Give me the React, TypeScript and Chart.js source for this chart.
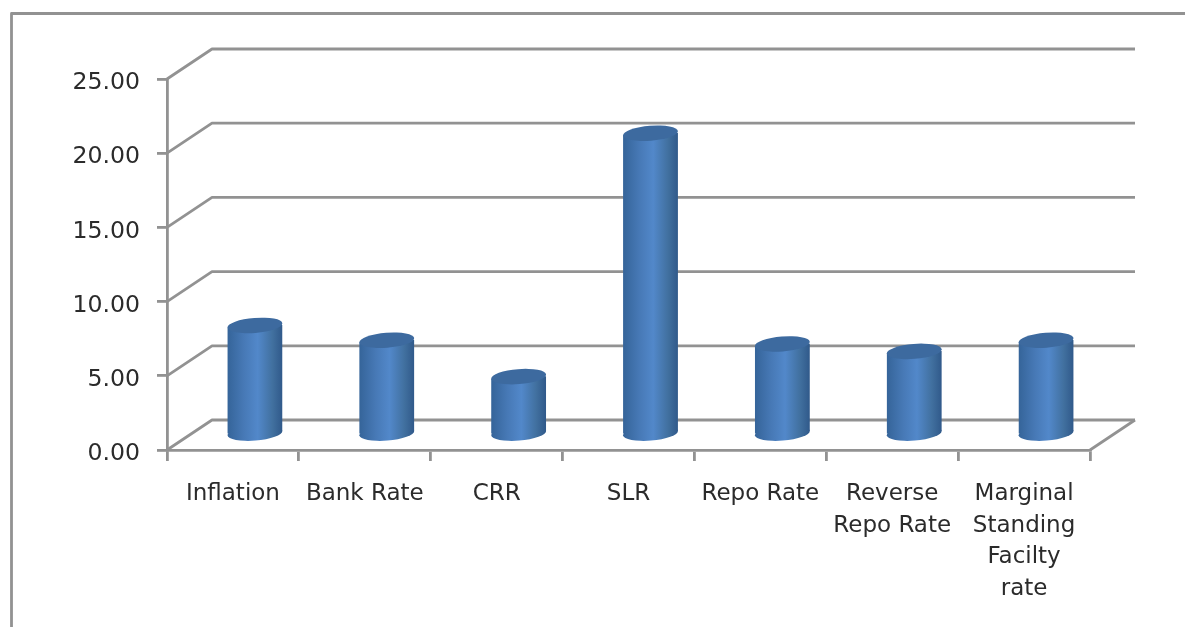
import React, { useEffect, useRef } from "react";
import { Chart, registerables } from "chart.js";

Chart.register(...registerables);

const categories: (string | string[])[] = [
  "Inflation",
  "Bank Rate",
  "CRR",
  "SLR",
  "Repo Rate",
  ["Reverse", "Repo Rate"],
  ["Marginal", "Standing", "Facilty", "rate"],
];
const rates = [7.35, 6.35, 3.9, 20.3, 6.1, 5.6, 6.35];

const LINE = "#929292";
const DEPTH_X = 45;
const DEPTH_Y = 30;
const BAR_DX = 22;
const BAR_DY = 15.5;
const BAR_W = 55;
const RY = 7.5;
const TILT = (-4.5 * Math.PI) / 180;

function gradientFor(c: CanvasRenderingContext2D, cx: number) {
  if (!Number.isFinite(cx)) return "#4f81bd";
  const g = c.createLinearGradient(cx - BAR_W / 2, 0, cx + BAR_W / 2, 0);
  g.addColorStop(0, "#356499");
  g.addColorStop(0.3, "#4779b6");
  g.addColorStop(0.55, "#5288ca");
  g.addColorStop(0.82, "#41709f");
  g.addColorStop(1, "#30598a");
  return g;
}

const walls = {
  id: "walls",
  beforeDraw(chart: any) {
    // nudge the value labels down, as in the reference
    chart.scales.y.getLabelItems(chart.chartArea).forEach((item: any) => {
      if (!item.nudged) {
        item.options.translation[1] += 4;
        item.nudged = true;
      }
    });
  },
  beforeDatasetsDraw(chart: any) {
    const { ctx, chartArea: a, scales } = chart;
    ctx.save();
    ctx.strokeStyle = LINE;
    ctx.lineWidth = 2.8;
    ctx.lineJoin = "round";
    // outer picture frame
    ctx.beginPath();
    ctx.moveTo(11.5, 627);
    ctx.lineTo(11.5, 13.5);
    ctx.lineTo(1185, 13.5);
    ctx.stroke();
    // side wall and back wall gridlines
    for (const v of scales.y.ticks.map((t: any) => t.value)) {
      const y = scales.y.getPixelForValue(v);
      ctx.beginPath();
      ctx.moveTo(a.left, y);
      ctx.lineTo(a.left + DEPTH_X, y - DEPTH_Y);
      ctx.lineTo(a.right + DEPTH_X, y - DEPTH_Y);
      ctx.stroke();
    }
    // floor edge on the right
    ctx.beginPath();
    ctx.moveTo(a.right, a.bottom);
    ctx.lineTo(a.right + DEPTH_X, a.bottom - DEPTH_Y);
    ctx.stroke();
    ctx.restore();
  },
  beforeDatasetDraw(chart: any) {
    const { ctx } = chart;
    const meta = chart.getDatasetMeta(0);
    const dx = (BAR_W / 2) * Math.cos(TILT);
    const dy = (BAR_W / 2) * Math.sin(TILT);
    // bottom rims first, so the bar bodies overlap them without a seam
    ctx.save();
    ctx.translate(BAR_DX, -BAR_DY);
    meta.data.forEach((bar: any) => {
      ctx.fillStyle = gradientFor(ctx, bar.x);
      ctx.beginPath();
      ctx.ellipse(bar.x, bar.base, BAR_W / 2, RY, TILT, 0, Math.PI * 2);
      ctx.fill();
    });
    ctx.restore();
    ctx.save();
    ctx.translate(BAR_DX, -BAR_DY);
    ctx.beginPath();
    meta.data.forEach((bar: any) => {
      ctx.moveTo(bar.x - dx, bar.y - dy);
      ctx.lineTo(bar.x + dx, bar.y + dy);
      ctx.lineTo(bar.x + dx, bar.base + dy);
      ctx.lineTo(bar.x - dx, bar.base - dy);
      ctx.closePath();
    });
    ctx.clip();
  },
  afterDatasetDraw(chart: any) {
    const { ctx } = chart;
    const meta = chart.getDatasetMeta(0);
    ctx.restore();
    ctx.save();
    ctx.translate(BAR_DX, -BAR_DY);
    meta.data.forEach((bar: any) => {
      ctx.fillStyle = "#3d6a9f";
      ctx.beginPath();
      ctx.ellipse(bar.x, bar.y, BAR_W / 2, RY, TILT, 0, Math.PI * 2);
      ctx.fill();
    });
    ctx.restore();
  },
};

export default function App() {
  const ref = useRef<HTMLCanvasElement>(null);
  useEffect(() => {
    document.body.style.margin = "0";
    document.body.style.background = "#ffffff";
    const chart = new Chart(ref.current!, {
      type: "bar",
      data: {
        labels: categories,
        datasets: [
          {
            label: "Rate",
            data: rates,
            barThickness: BAR_W,
            backgroundColor: (c: any) =>
              gradientFor(c.chart.ctx, c.chart.scales.x?.getPixelForValue(c.dataIndex)),
            borderWidth: 0,
          },
        ],
      },
      options: {
        responsive: false,
        animation: false,
        layout: { padding: { top: 79, right: 95, left: 0, bottom: 0 } },
        plugins: { legend: { display: false }, tooltip: { enabled: false }, title: { display: false } },
        scales: {
          x: {
            afterFit: (s: any) => {
              s.height = 177;
            },
            grid: {
              display: true,
              drawOnChartArea: false,
              drawTicks: true,
              tickLength: 11,
              color: LINE,
              lineWidth: 2.8,
            },
            border: { display: true, color: LINE, width: 2.8 },
            ticks: {
              color: "#2b2b2b",
              font: { family: "'DejaVu Sans'", size: 23, lineHeight: 1.38 },
              maxRotation: 0,
              minRotation: 0,
              autoSkip: false,
              padding: 17,
            },
          },
          y: {
            min: 0,
            max: 25,
            afterFit: (s: any) => {
              s.width = 167;
            },
            grid: {
              display: true,
              drawOnChartArea: false,
              drawTicks: true,
              tickLength: 10,
              color: LINE,
              lineWidth: 2.8,
            },
            border: { display: true, color: LINE, width: 2.8 },
            ticks: {
              stepSize: 5,
              color: "#2b2b2b",
              font: { family: "'DejaVu Sans'", size: 23.6 },
              padding: 17,
              callback: (v: any) => Number(v).toFixed(2),
            },
          },
        },
      },
      plugins: [walls],
    } as any);
    return () => chart.destroy();
  }, []);
  return (
    <canvas
      ref={ref}
      width={1185}
      height={627}
      style={{ display: "block", width: 1185, height: 627, filter: "blur(0.6px)" }}
    />
  );
}
